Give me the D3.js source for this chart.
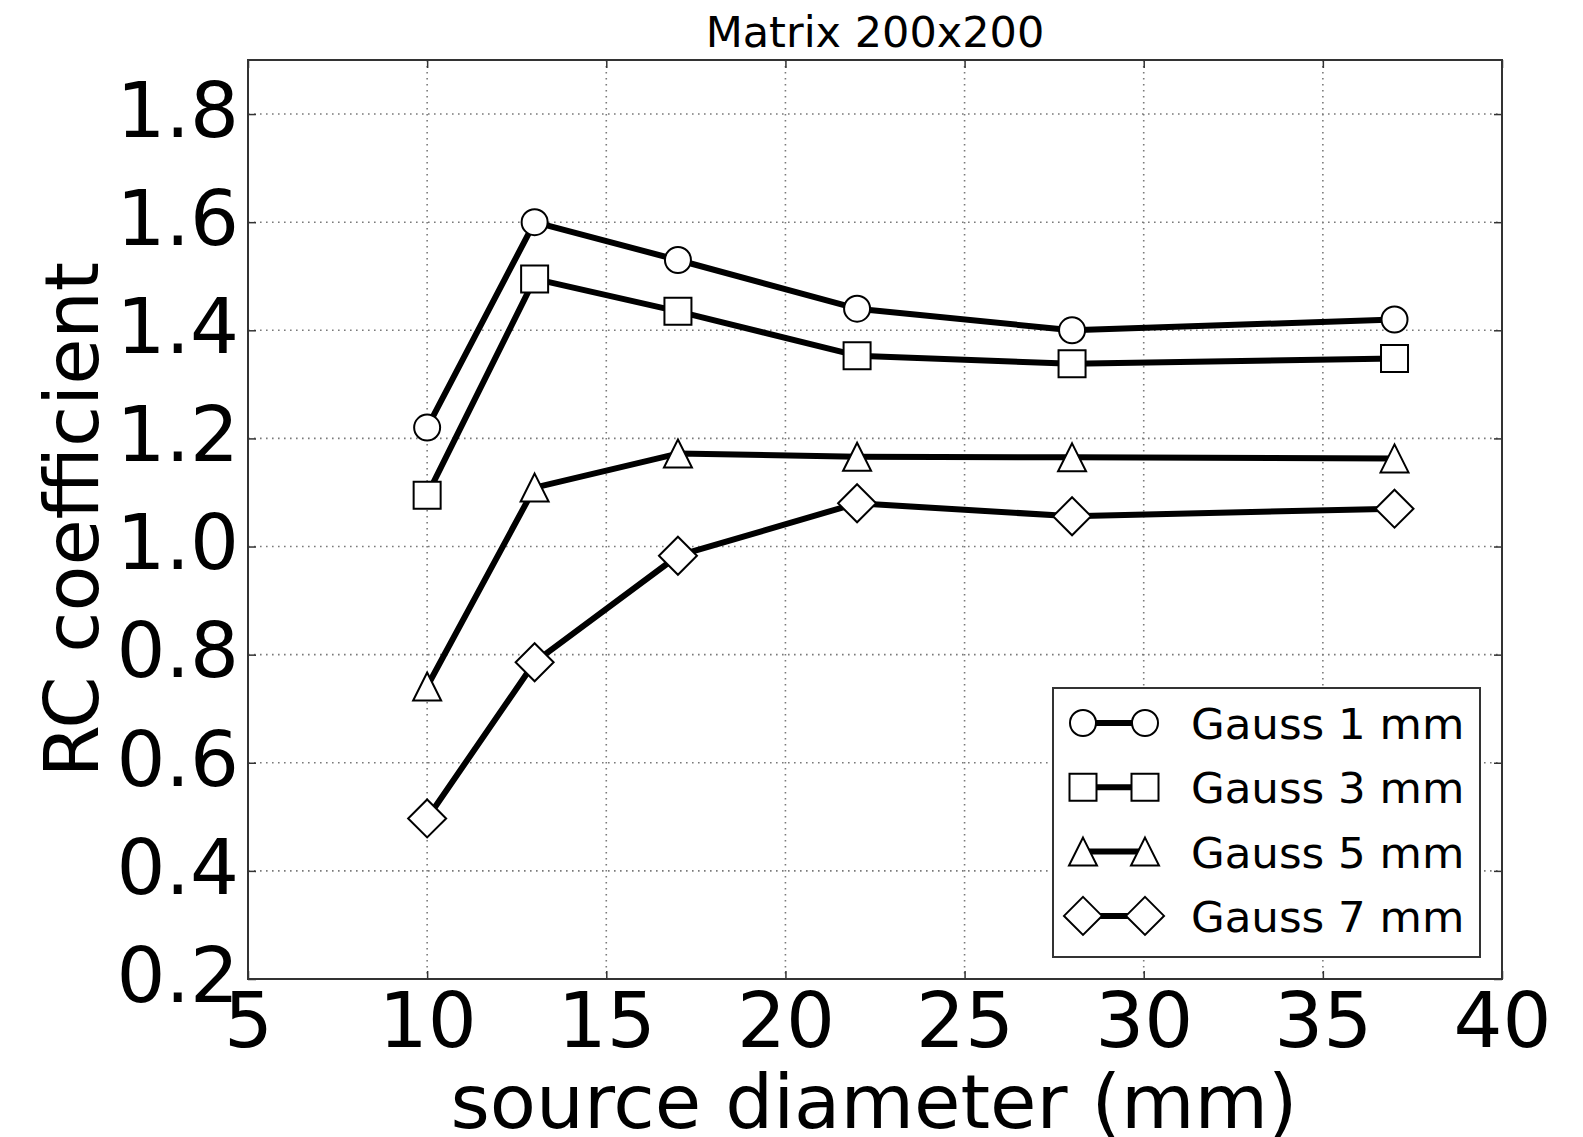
<!DOCTYPE html>
<html>
<head>
<meta charset="utf-8">
<script src="https://cdn.jsdelivr.net/npm/d3@7"></script>
<style>
  body { margin: 0; background: #fff; }
  text { font-family: "DejaVu Sans", sans-serif; fill: #000; }
</style>
</head>
<body>
<div id="chart"></div>
<script>
// Data
const diameters = [10, 13, 17, 22, 28, 37];
const gauss1 = [1.22, 1.60, 1.53, 1.44, 1.40, 1.42];
const gauss3 = [1.095, 1.495, 1.435, 1.353, 1.338, 1.348];
const gauss5 = [0.741, 1.109, 1.172, 1.166, 1.165, 1.163];
const gauss7 = [0.497, 0.786, 0.983, 1.080, 1.056, 1.070];
const seriesNames = ['Gauss 1 mm', 'Gauss 3 mm', 'Gauss 5 mm', 'Gauss 7 mm'];
const markerShapes = ['circle', 'square', 'triangle', 'diamond'];
const xTicks = [5, 10, 15, 20, 25, 30, 35, 40];
const yTicks = [0.2, 0.4, 0.6, 0.8, 1.0, 1.2, 1.4, 1.6, 1.8];
const titleText = 'Matrix 200x200';
const xLabel = 'source diameter (mm)';
const yLabel = 'RC coefficient';

const width = 1583;
const height = 1137;
const plot = { left: 248, right: 1502, top: 60, bottom: 979 };

const series = [gauss1, gauss3, gauss5, gauss7].map((vals, i) => ({
  name: seriesNames[i],
  shape: markerShapes[i],
  values: diameters.map((d, j) => ({ x: d, y: vals[j] }))
}));

const x = d3.scaleLinear().domain([5, 40]).range([plot.left, plot.right]);
const y = d3.scaleLinear().domain([0.2, 1.9]).range([plot.bottom, plot.top]);

// matplotlib-like marker outlines
function markerPath(shape) {
  const p = d3.path();
  if (shape === 'circle') {
    const r = 13;
    p.moveTo(r, 0);
    p.arc(0, 0, r, 0, 2 * Math.PI);
  } else if (shape === 'square') {
    const h = 13.5;
    p.rect(-h, -h, 2 * h, 2 * h);
  } else if (shape === 'triangle') {
    const h = 14;
    p.moveTo(0, -h);
    p.lineTo(h, h);
    p.lineTo(-h, h);
    p.closePath();
  } else {
    const h = 19;
    p.moveTo(0, -h);
    p.lineTo(h, 0);
    p.lineTo(0, h);
    p.lineTo(-h, 0);
    p.closePath();
  }
  return p.toString();
}

const svg = d3.select('#chart').append('svg')
  .attr('width', width)
  .attr('height', height);

// Grid
const grid = svg.append('g').attr('class', 'grid')
  .attr('stroke', '#7a7a7a')
  .attr('stroke-width', 1.6)
  .attr('stroke-dasharray', '1.6,4.4');

grid.selectAll('line.gx').data(xTicks).enter().append('line')
  .attr('class', 'gx')
  .attr('x1', d => x(d)).attr('x2', d => x(d))
  .attr('y1', plot.top).attr('y2', plot.bottom);

grid.selectAll('line.gy').data(yTicks).enter().append('line')
  .attr('class', 'gy')
  .attr('x1', plot.left).attr('x2', plot.right)
  .attr('y1', d => y(d)).attr('y2', d => y(d));

// Axes (inward ticks on all four sides)
const tickLen = 8;
const axisStyle = g => {
  g.select('.domain').remove();
  g.selectAll('.tick line').attr('stroke', '#333').attr('stroke-width', 1.5);
};

svg.append('g')
  .attr('transform', `translate(0,${plot.bottom})`)
  .call(d3.axisBottom(x).tickValues(xTicks).tickSize(-tickLen).tickPadding(13).tickFormat(d3.format('d')))
  .call(axisStyle)
  .call(g => g.selectAll('.tick text')
    .attr('font-size', 77).attr('font-family', '"DejaVu Sans", sans-serif').attr('fill', '#000'));

svg.append('g')
  .attr('transform', `translate(0,${plot.top})`)
  .call(d3.axisTop(x).tickValues(xTicks).tickSize(-tickLen).tickFormat(''))
  .call(axisStyle);

svg.append('g')
  .attr('transform', `translate(${plot.left},0)`)
  .call(d3.axisLeft(y).tickValues(yTicks).tickSize(-tickLen).tickPadding(9).tickFormat(d3.format('.1f')))
  .call(axisStyle)
  .call(g => g.selectAll('.tick text')
    .attr('dy', '0.29em')
    .attr('font-size', 77).attr('font-family', '"DejaVu Sans", sans-serif').attr('fill', '#000'));

svg.append('g')
  .attr('transform', `translate(${plot.right},0)`)
  .call(d3.axisRight(y).tickValues(yTicks).tickSize(-tickLen).tickFormat(''))
  .call(axisStyle);

// Frame
svg.append('rect')
  .attr('x', plot.left).attr('y', plot.top)
  .attr('width', plot.right - plot.left)
  .attr('height', plot.bottom - plot.top)
  .attr('fill', 'none')
  .attr('stroke', '#333')
  .attr('stroke-width', 2);

// Lines and markers
const line = d3.line().x(d => x(d.x)).y(d => y(d.y));

series.forEach(s => {
  const g = svg.append('g').attr('class', 'series');
  g.append('path')
    .attr('d', line(s.values))
    .attr('fill', 'none')
    .attr('stroke', '#000')
    .attr('stroke-width', 6)
    .attr('stroke-linejoin', 'round');
  g.selectAll('path.marker').data(s.values).enter().append('path')
    .attr('class', 'marker')
    .attr('d', markerPath(s.shape))
    .attr('transform', d => `translate(${x(d.x)},${y(d.y)})`)
    .attr('fill', '#fff')
    .attr('stroke', '#000')
    .attr('stroke-width', 2);
});

// Legend
const legend = { left: 1053, top: 688, right: 1480, bottom: 957, row0: 723, rowStep: 64.3 };
svg.append('rect')
  .attr('x', legend.left).attr('y', legend.top)
  .attr('width', legend.right - legend.left)
  .attr('height', legend.bottom - legend.top)
  .attr('fill', '#fff')
  .attr('stroke', '#333')
  .attr('stroke-width', 2);

const items = svg.selectAll('g.legend-item').data(series).enter().append('g')
  .attr('class', 'legend-item')
  .attr('transform', (d, i) => `translate(0,${legend.row0 + i * legend.rowStep})`);

items.append('line')
  .attr('x1', 1083).attr('x2', 1145)
  .attr('stroke', '#000').attr('stroke-width', 6);

items.selectAll('path').data(d => [d.shape, d.shape]).enter().append('path')
  .attr('d', d => markerPath(d))
  .attr('transform', (d, i) => `translate(${i ? 1145 : 1083},0)`)
  .attr('fill', '#fff').attr('stroke', '#000').attr('stroke-width', 2);

items.append('text')
  .attr('x', 1191).attr('y', 16)
  .attr('font-size', 43.5)
  .text(d => d.name);

// Title and axis labels
svg.append('text')
  .attr('x', (plot.left + plot.right) / 2).attr('y', 47)
  .attr('text-anchor', 'middle')
  .attr('font-size', 43)
  .text(titleText);

svg.append('text')
  .attr('x', (plot.left + plot.right) / 2 - 1).attr('y', 1128)
  .attr('text-anchor', 'middle')
  .attr('font-size', 75.5)
  .text(xLabel);

svg.append('text')
  .attr('transform', `translate(98,${(plot.top + plot.bottom) / 2}) rotate(-90)`)
  .attr('text-anchor', 'middle')
  .attr('font-size', 75)
  .text(yLabel);
</script>
</body>
</html>
